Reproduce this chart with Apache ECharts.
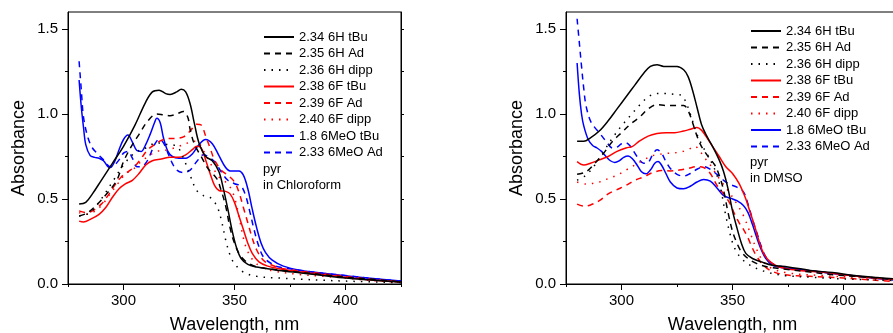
<!DOCTYPE html>
<html><head><meta charset="utf-8">
<script src="https://cdn.jsdelivr.net/npm/echarts@6/dist/echarts.min.js"></script>
<style>html,body{margin:0;padding:0;background:#fff}#c{width:893px;height:333px}</style>
</head><body><div id="c"></div>
<script>
// ---- Legend / series names ----
const seriesNames = ['2.34 6H tBu','2.35 6H Ad','2.36 6H dipp','2.38 6F tBu','2.39 6F Ad','2.40 6F dipp','1.8 6MeO tBu','2.33 6MeO Ad'];
const xTickLabels = [300, 350, 400];
const yTickLabels = [0, 0.5, 1.0, 1.5];
const leftNote = ['pyr', 'in Chloroform'];
const rightNote = ['pyr', 'in DMSO'];

// ---- Chloroform panel data [wavelength nm, absorbance] ----
const chl_6H_tBu = [[280,0.47],[283,0.48],[286,0.53],[290,0.61],[295,0.71],[300,0.81],[305,0.93],[310,1.07],[313,1.13],[316,1.14],[319,1.12],[321,1.115],[324,1.13],[326,1.145],[328,1.13],[330,1.06],[332,0.94],[334,0.83],[337,0.75],[340,0.725],[343,0.66],[345,0.56],[347,0.44],[349,0.31],[351,0.21],[353,0.15],[356,0.115],[360,0.10],[365,0.09],[370,0.08],[380,0.065],[390,0.05],[400,0.035],[410,0.025],[425,0.012]];
const chl_6H_Ad = [[280,0.40],[284,0.42],[289,0.48],[293,0.54],[297,0.61],[300,0.72],[304,0.82],[307,0.88],[311,0.96],[315,1.0],[318,0.995],[321,0.99],[324,1.0],[327,1.015],[329,0.98],[330,0.91],[332,0.82],[335,0.75],[338,0.68],[342,0.62],[344,0.55],[346,0.46],[348,0.33],[350,0.24],[353,0.16],[358,0.11],[365,0.09],[375,0.075],[390,0.055],[400,0.04],[410,0.03],[425,0.012]];
const chl_6H_dipp = [[280,0.40],[285,0.42],[290,0.50],[295,0.60],[300,0.70],[305,0.77],[310,0.80],[315,0.83],[320,0.82],[324,0.81],[327,0.74],[330,0.64],[333,0.55],[336,0.52],[339,0.51],[342,0.46],[344,0.38],[346,0.26],[348,0.17],[350,0.12],[354,0.07],[360,0.045],[370,0.035],[380,0.028],[390,0.022],[400,0.017],[425,0.008]];
const chl_6F_tBu = [[280,0.37],[282,0.365],[285,0.38],[289,0.41],[292,0.45],[295,0.51],[298,0.56],[301,0.59],[304,0.61],[307,0.65],[310,0.70],[313,0.725],[317,0.735],[321,0.745],[325,0.745],[328,0.76],[331,0.79],[333,0.81],[335,0.80],[337,0.73],[339,0.65],[341,0.58],[343,0.55],[346,0.545],[348,0.53],[350,0.48],[352,0.40],[354,0.32],[356,0.24],[358,0.18],[361,0.13],[365,0.105],[370,0.09],[380,0.07],[390,0.055],[400,0.04],[410,0.025],[425,0.012]];
const chl_6F_Ad = [[280,0.43],[283,0.42],[286,0.43],[290,0.47],[293,0.52],[296,0.58],[299,0.63],[302,0.66],[305,0.69],[308,0.74],[311,0.79],[314,0.82],[317,0.845],[320,0.855],[324,0.857],[327,0.865],[330,0.90],[333,0.94],[335,0.935],[337,0.87],[339,0.80],[341,0.73],[344,0.67],[347,0.64],[350,0.60],[352,0.54],[354,0.45],[356,0.36],[358,0.27],[360,0.20],[363,0.14],[367,0.11],[372,0.09],[380,0.075],[390,0.06],[400,0.045],[410,0.03],[425,0.012]];
const chl_6F_dipp = [[280,0.42],[283,0.41],[286,0.42],[290,0.46],[294,0.53],[298,0.60],[301,0.65],[304,0.67],[307,0.71],[311,0.75],[315,0.78],[320,0.79],[325,0.81],[329,0.83],[332,0.84],[334,0.83],[337,0.76],[340,0.69],[343,0.63],[346,0.60],[348,0.57],[350,0.51],[352,0.40],[354,0.27],[356,0.19],[359,0.13],[363,0.095],[368,0.075],[380,0.055],[390,0.045],[400,0.035],[410,0.022],[425,0.01]];
const chl_6MeO_tBu = [[280,1.20],[281,1.04],[282,0.92],[283,0.82],[285,0.755],[287,0.745],[289,0.74],[291,0.725],[293,0.69],[294,0.685],[296,0.72],[298,0.79],[300,0.85],[302,0.876],[304,0.835],[306,0.785],[308,0.78],[310,0.82],[312,0.88],[314,0.95],[315,0.975],[316.5,0.95],[318,0.86],[320,0.78],[322,0.75],[325,0.74],[328,0.74],[331,0.765],[334,0.82],[337,0.85],[340,0.825],[343,0.755],[346,0.685],[348,0.665],[350,0.665],[352,0.665],[354,0.64],[356,0.56],[358,0.44],[360,0.33],[362,0.24],[364,0.185],[367,0.14],[372,0.105],[380,0.08],[390,0.063],[400,0.048],[410,0.035],[425,0.018]];
const chl_6MeO_Ad = [[280,1.31],[281,1.14],[282,0.98],[284,0.86],[286,0.80],[288,0.77],[291,0.73],[294,0.69],[296,0.70],[298,0.73],[300,0.77],[302,0.78],[304,0.74],[306,0.69],[308,0.69],[310,0.71],[312,0.76],[314,0.82],[316,0.85],[318,0.83],[320,0.77],[322,0.71],[324,0.67],[327,0.655],[330,0.67],[333,0.72],[336,0.76],[338,0.75],[341,0.72],[344,0.66],[347,0.61],[350,0.59],[353,0.575],[355,0.52],[357,0.42],[359,0.31],[361,0.22],[363,0.16],[366,0.125],[370,0.10],[380,0.08],[390,0.063],[400,0.05],[410,0.035],[425,0.017]];

// ---- DMSO panel data ----
const dmso_6H_tBu = [[280,0.84],[283,0.84],[286,0.86],[290,0.90],[294,0.96],[298,1.03],[302,1.10],[306,1.17],[310,1.24],[313,1.28],[316,1.29],[319,1.28],[322,1.28],[325,1.28],[328,1.26],[330,1.22],[332,1.14],[334,1.04],[336,0.94],[338,0.88],[341,0.81],[344,0.73],[346,0.66],[348,0.56],[350,0.43],[352,0.33],[354,0.24],[356,0.18],[359,0.15],[363,0.13],[368,0.11],[375,0.10],[385,0.08],[395,0.067],[405,0.05],[415,0.038],[425,0.028]];
const dmso_6H_Ad = [[280,0.645],[284,0.66],[288,0.71],[292,0.77],[296,0.84],[300,0.89],[304,0.94],[308,0.98],[312,1.03],[316,1.055],[320,1.05],[324,1.05],[328,1.05],[330,1.02],[332,0.95],[334,0.87],[336,0.81],[339,0.75],[342,0.70],[344,0.64],[346,0.55],[348,0.42],[350,0.31],[352,0.24],[354,0.19],[357,0.15],[361,0.12],[366,0.10],[375,0.085],[385,0.07],[395,0.055],[405,0.045],[415,0.035],[425,0.025]];
const dmso_6H_dipp = [[280,0.61],[284,0.64],[288,0.70],[292,0.78],[296,0.86],[300,0.93],[304,0.99],[308,1.05],[312,1.10],[316,1.12],[320,1.12],[324,1.115],[327,1.11],[329,1.07],[331,1.0],[334,0.88],[337,0.80],[340,0.73],[343,0.64],[345,0.54],[347,0.40],[349,0.29],[351,0.21],[354,0.15],[358,0.11],[362,0.085],[367,0.065],[373,0.05],[385,0.04],[400,0.03],[425,0.02]];
const dmso_6F_tBu = [[280,0.72],[283,0.70],[286,0.71],[290,0.73],[294,0.75],[298,0.78],[302,0.80],[305,0.81],[308,0.84],[312,0.87],[316,0.885],[320,0.89],[324,0.89],[328,0.90],[331,0.91],[334,0.92],[336,0.905],[338,0.87],[341,0.81],[344,0.75],[347,0.69],[350,0.65],[353,0.59],[356,0.50],[358,0.42],[360,0.34],[362,0.25],[364,0.18],[367,0.13],[371,0.10],[380,0.08],[390,0.07],[400,0.055],[410,0.04],[425,0.025]];
const dmso_6F_Ad = [[280,0.47],[283,0.458],[286,0.465],[290,0.49],[294,0.53],[298,0.555],[302,0.58],[306,0.61],[310,0.63],[314,0.655],[318,0.667],[322,0.665],[326,0.67],[330,0.68],[334,0.69],[337,0.685],[340,0.65],[343,0.58],[346,0.53],[349,0.47],[351,0.41],[353,0.36],[355,0.32],[357,0.27],[359,0.21],[361,0.16],[364,0.11],[367,0.08],[373,0.055],[385,0.045],[400,0.035],[425,0.012]];
const dmso_6F_dipp = [[280,0.60],[284,0.588],[290,0.60],[294,0.62],[298,0.64],[302,0.67],[306,0.70],[310,0.73],[314,0.755],[318,0.765],[322,0.77],[326,0.775],[330,0.79],[333,0.81],[335,0.79],[337,0.75],[340,0.70],[344,0.62],[348,0.55],[352,0.47],[355,0.40],[358,0.30],[361,0.20],[364,0.13],[368,0.09],[375,0.065],[390,0.05],[410,0.035],[425,0.02]];
const dmso_6MeO_tBu = [[280,1.30],[281,1.12],[282,1.0],[283,0.93],[285,0.85],[287,0.815],[289,0.80],[291,0.78],[293,0.75],[295,0.725],[297,0.715],[299,0.725],[301,0.745],[303,0.753],[305,0.735],[307,0.70],[309,0.66],[311,0.648],[313,0.67],[315,0.71],[316.5,0.72],[318,0.70],[320,0.65],[322,0.60],[325,0.565],[328,0.56],[331,0.575],[334,0.60],[337,0.615],[340,0.605],[343,0.565],[346,0.52],[349,0.505],[352,0.49],[355,0.46],[357,0.42],[359,0.35],[361,0.27],[363,0.20],[365,0.15],[368,0.11],[373,0.095],[380,0.085],[390,0.07],[400,0.055],[410,0.04],[425,0.022]];
const dmso_6MeO_Ad = [[280,1.56],[281,1.42],[282,1.28],[283,1.15],[284,1.05],[286,0.96],[288,0.92],[290,0.89],[293,0.84],[296,0.80],[298,0.805],[300,0.825],[302,0.83],[304,0.81],[306,0.77],[308,0.73],[310,0.71],[312,0.715],[314,0.76],[316,0.79],[318,0.77],[320,0.72],[322,0.68],[325,0.645],[328,0.635],[331,0.65],[334,0.675],[337,0.69],[340,0.675],[343,0.645],[346,0.61],[349,0.585],[352,0.57],[355,0.54],[357,0.47],[359,0.38],[361,0.30],[363,0.22],[365,0.16],[368,0.12],[373,0.10],[380,0.085],[390,0.07],[400,0.055],[410,0.04],[425,0.022]];

const chlData = [chl_6H_tBu, chl_6H_Ad, chl_6H_dipp, chl_6F_tBu, chl_6F_Ad, chl_6F_dipp, chl_6MeO_tBu, chl_6MeO_Ad];
const dmsoData = [dmso_6H_tBu, dmso_6H_Ad, dmso_6H_dipp, dmso_6F_tBu, dmso_6F_Ad, dmso_6F_dipp, dmso_6MeO_tBu, dmso_6MeO_Ad];

// ---- styles ----
const FONT = 'Arial, "Liberation Sans", sans-serif';
const colors = ['#000000','#000000','#000000','#ff0000','#ff0000','#ff0000','#0000ff','#0000ff'];
const dashes = ['solid',[6,5],[1.5,6],'solid',[6,5],[1.5,6],'solid',[6,5]];

const chart = echarts.init(document.getElementById('c'), null, {renderer:'canvas'});

const grids = [
  {left:68, top:12, width:333, height:272, show:true, borderColor:'#000', borderWidth:1, backgroundColor:'transparent', outerBoundsMode:'none', containLabel:false},
  {left:566, top:12, width:333, height:272, show:true, borderColor:'#000', borderWidth:1, backgroundColor:'transparent', outerBoundsMode:'none', containLabel:false}
];

function xAxesFor(g){
  return [
    {type:'value', gridIndex:g, position:'bottom', min:275, max:425, interval:25,
     name:'Wavelength, nm', nameLocation:'middle', nameGap:32,
     nameTextStyle:{fontFamily:FONT, fontSize:18, color:'#000'},
     axisLine:{show:true, onZero:false, lineStyle:{color:'#000', width:1}},
     axisTick:{show:true, customValues:xTickLabels, length:6, inside:false, lineStyle:{color:'#000'}},
     axisLabel:{show:true, customValues:xTickLabels, margin:9, fontFamily:FONT, fontSize:15, color:'#000'},
     splitLine:{show:false}},
    {type:'value', gridIndex:g, position:'bottom', min:275, max:425, interval:25,
     axisLine:{show:false}, axisLabel:{show:false},
     axisTick:{show:true, customValues:[275,325,375,425], length:3, lineStyle:{color:'#000'}},
     splitLine:{show:false}}
  ];
}
function yAxesFor(g){
  return [
    {type:'value', gridIndex:g, position:'left', min:0, max:1.6, interval:0.5,
     name:'Absorbance', nameLocation:'middle', nameGap:40, nameRotate:90,
     nameTextStyle:{fontFamily:FONT, fontSize:18, color:'#000'},
     axisLine:{show:true, onZero:false, lineStyle:{color:'#000', width:1}},
     axisTick:{show:true, customValues:yTickLabels, length:6, lineStyle:{color:'#000'}},
     axisLabel:{show:true, customValues:yTickLabels, margin:10, fontFamily:FONT, fontSize:15, color:'#000',
       formatter:(v)=>v.toFixed(1)},
     splitLine:{show:false}},
    {type:'value', gridIndex:g, position:'left', min:0, max:1.6, interval:0.5,
     axisLine:{show:false}, axisLabel:{show:false},
     axisTick:{show:true, customValues:[0.25,0.75,1.25], length:3, lineStyle:{color:'#000'}},
     splitLine:{show:false}},
    {type:'value', gridIndex:g, position:'right', min:0, max:1.6, interval:0.5,
     axisLine:{show:true, onZero:false, lineStyle:{color:'#000', width:1}}, axisLabel:{show:false},
     axisTick:{show:true, customValues:[0.25,0.5,0.75,1.0,1.25,1.5], length:3, lineStyle:{color:'#000'}},
     splitLine:{show:false}}
  ];
}

const xAxis = xAxesFor(0).concat(xAxesFor(1));
const yAxis = yAxesFor(0).concat(yAxesFor(1));

const series = [];
[chlData, dmsoData].forEach((set, p) => {
  set.forEach((d, i) => {
    series.push({
      type:'line', name:seriesNames[i], xAxisIndex:p*2, yAxisIndex:p*3,
      data:d, showSymbol:false, symbol:'none', smooth:0.35, clip:true,
      lineStyle:{color:colors[i], width:1.5, type:dashes[i]},
      itemStyle:{color:colors[i]}, emphasis:{disabled:true}, silent:true, z: 10 - i
    });
  });
});

function legendAt(left, top){
  return {show:true, left:left, top:top, orient:'vertical', data:seriesNames.slice(),
    itemWidth:30, itemHeight:12, itemGap:0.5, selectedMode:false,
    itemStyle:{opacity:0, borderWidth:0},
    textStyle:{fontFamily:FONT, fontSize:13, color:'#000', lineHeight:16},
    padding:0};
}

const noteStyle = {fontFamily:FONT, fontSize:13, fill:'#000'};
const graphic = [
  {type:'text', left:263, top:163, style:Object.assign({text:leftNote[0]}, noteStyle)},
  {type:'text', left:263, top:179, style:Object.assign({text:leftNote[1]}, noteStyle)},
  {type:'text', left:750, top:156, style:Object.assign({text:rightNote[0]}, noteStyle)},
  {type:'text', left:750, top:172, style:Object.assign({text:rightNote[1]}, noteStyle)}
];

chart.setOption({
  animation:false,
  backgroundColor:'#fff',
  grid:grids, xAxis:xAxis, yAxis:yAxis, series:series,
  legend:[legendAt(263, 29), legendAt(750, 23)],
  graphic:graphic
});
</script></body></html>
